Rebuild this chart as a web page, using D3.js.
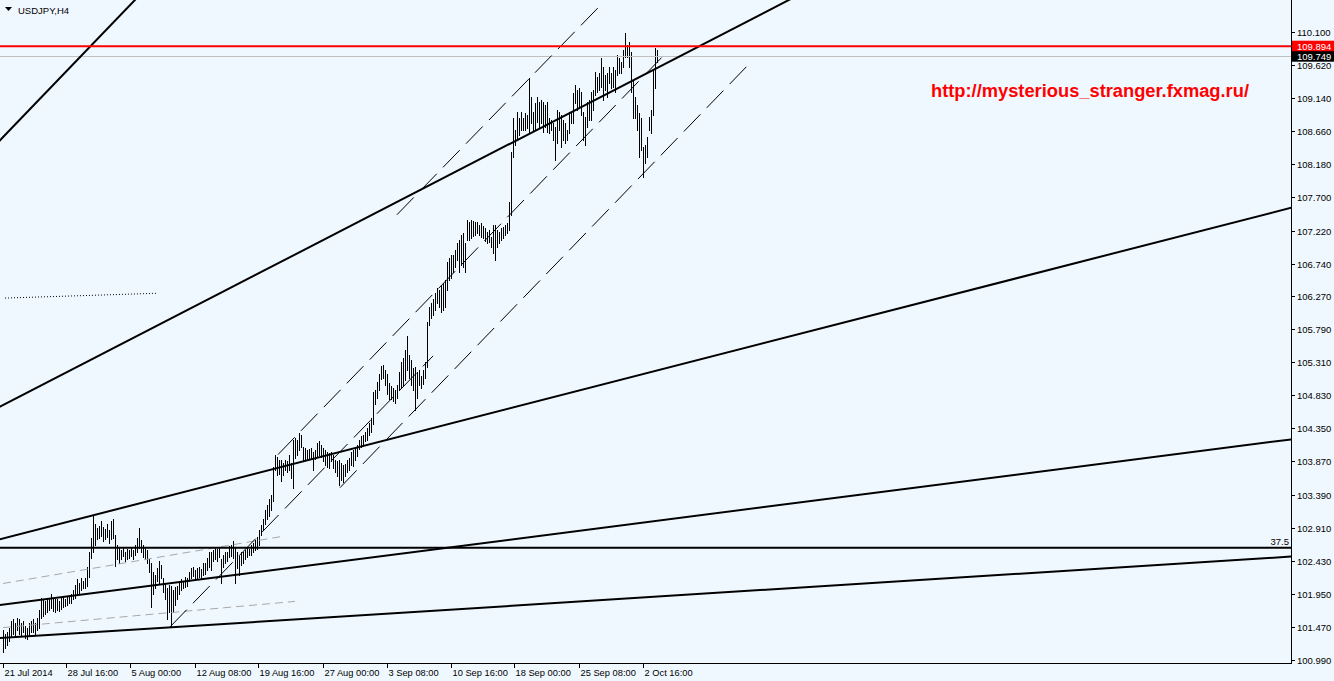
<!DOCTYPE html>
<html><head><meta charset="utf-8">
<script src="https://cdn.jsdelivr.net/npm/d3@7/dist/d3.min.js"></script>
<style>html,body{margin:0;padding:0;background:#f0f8ff;overflow:hidden}text{font-family:"Liberation Sans",Arial,sans-serif}</style>
</head><body>
<svg id="c" width="1334" height="681"></svg>
<script>
// ---- data: USDJPY H4 bars (high / low), bar index 0 = first visible bar ----
const highs=[
101.43,101.36,101.40,101.46,101.55,101.58,101.52,101.60,101.58,101.52,
101.55,101.49,101.46,101.52,101.55,101.58,101.52,101.60,101.72,101.89,
101.87,101.84,101.87,101.89,101.95,101.89,101.87,101.88,101.85,101.89,
101.91,101.88,101.92,101.91,101.95,102.01,102.08,102.16,102.11,102.18,
102.13,102.18,102.34,102.56,102.76,103.10,102.97,102.91,102.94,103.01,
102.92,102.89,102.97,102.88,103.00,103.03,102.81,102.66,102.63,102.59,
102.62,102.56,102.60,102.58,102.62,102.59,102.66,102.76,102.91,102.73,
102.66,102.62,102.59,102.45,102.40,102.27,102.23,102.33,102.42,102.37,
102.18,102.11,102.04,102.08,102.07,102.01,102.05,102.07,102.13,102.16,
102.14,102.20,102.18,102.27,102.33,102.34,102.30,102.33,102.34,102.31,
102.39,102.40,102.47,102.55,102.56,102.59,102.63,102.60,102.63,102.45,
102.52,102.55,102.56,102.65,102.66,102.71,102.63,102.55,102.50,102.56,
102.55,102.59,102.62,102.60,102.66,102.68,102.73,102.78,102.88,102.95,
103.04,103.17,103.24,103.32,103.39,103.79,103.97,103.94,103.89,103.89,
103.85,103.89,103.87,103.97,103.85,104.18,104.21,104.18,104.29,104.26,
104.08,104.07,104.04,104.05,104.07,104.01,104.04,104.14,104.16,104.11,
104.07,104.04,104.01,104.00,104.01,103.97,103.89,103.87,103.89,103.85,
103.82,103.84,103.89,103.92,104.01,104.04,104.07,104.11,104.18,104.24,
104.26,104.30,104.36,104.43,104.50,104.88,104.91,105.03,105.14,105.26,
105.27,105.20,105.14,105.01,104.97,104.94,104.91,104.98,105.17,105.32,
105.37,105.49,105.69,105.42,105.34,105.23,105.24,105.17,105.20,105.11,
105.20,105.32,105.90,106.11,106.17,106.22,106.32,106.39,106.36,106.43,
106.46,106.50,106.77,106.82,106.87,106.87,106.94,107.04,107.08,107.16,
107.18,107.04,107.37,107.35,107.37,107.36,107.35,107.35,107.30,107.33,
107.29,107.26,107.20,107.23,107.13,107.30,107.30,107.23,107.20,107.26,
107.27,107.30,107.33,107.64,108.36,108.85,108.68,108.94,108.85,108.94,
108.85,108.93,108.90,109.43,109.16,108.94,109.07,109.16,109.09,109.12,
109.09,109.04,109.09,108.85,108.82,108.78,108.72,108.97,108.94,108.90,
108.82,108.78,108.68,108.94,108.94,109.22,109.33,109.26,109.29,109.23,
108.94,108.87,109.09,109.12,109.23,109.26,109.52,109.45,109.51,109.72,
109.59,109.48,109.51,109.59,109.51,109.59,109.55,109.77,109.72,109.67,
109.84,110.09,109.91,109.96,109.81,109.41,109.16,109.04,108.93,108.85,
108.43,108.46,108.58,108.87,108.97,109.55,109.87,109.84];
const lows=[
101.11,101.17,101.21,101.26,101.34,101.37,101.34,101.43,101.37,101.34,
101.39,101.31,101.29,101.34,101.40,101.40,101.37,101.43,101.46,101.60,
101.63,101.66,101.69,101.72,101.75,101.70,101.68,101.72,101.70,101.73,
101.76,101.78,101.79,101.81,101.82,101.87,101.89,101.94,101.95,102.01,
102.03,102.04,102.07,102.20,102.47,102.56,102.66,102.74,102.76,102.79,
102.71,102.74,102.78,102.68,102.74,102.76,102.36,102.45,102.40,102.45,
102.50,102.42,102.45,102.47,102.50,102.45,102.52,102.56,102.62,102.56,
102.49,102.45,102.40,102.27,101.76,101.95,102.04,102.13,102.10,102.18,
101.98,101.87,101.58,101.69,101.47,101.69,101.79,101.87,101.95,102.01,
102.03,102.05,102.07,102.14,102.18,102.21,102.16,102.18,102.20,102.18,
102.23,102.24,102.30,102.34,102.30,102.42,102.45,102.42,102.49,102.11,
102.34,102.40,102.43,102.49,102.50,102.47,102.11,102.33,102.23,102.37,
102.40,102.45,102.49,102.52,102.52,102.55,102.59,102.60,102.66,102.81,
102.88,102.97,103.03,103.08,103.17,103.29,103.75,103.68,103.69,103.58,
103.68,103.75,103.71,103.75,103.63,103.49,103.92,103.97,104.04,104.08,
103.87,103.90,103.90,103.92,103.92,103.75,103.90,103.94,103.97,103.94,
103.87,103.82,103.79,103.78,103.87,103.78,103.72,103.66,103.53,103.60,
103.57,103.66,103.72,103.75,103.82,103.81,103.89,103.95,104.05,104.08,
104.10,104.16,104.18,104.26,104.30,104.42,104.71,104.79,104.91,105.06,
105.08,104.98,104.85,104.77,104.77,104.74,104.72,104.79,104.91,104.94,
104.97,105.05,105.20,105.08,104.98,104.91,104.62,104.79,104.98,104.94,
104.99,105.08,105.24,105.85,105.95,106.00,106.07,106.17,106.11,106.04,
106.07,106.11,106.36,106.50,106.53,106.62,106.69,106.79,106.62,106.72,
106.69,106.62,107.08,107.08,107.11,107.14,107.16,107.19,107.16,107.13,
107.11,107.07,107.04,107.06,106.98,106.90,106.79,106.98,107.04,107.08,
107.11,107.16,107.19,107.23,107.45,108.29,108.46,108.54,108.61,108.68,
108.68,108.68,108.71,108.64,108.78,108.68,108.68,108.80,108.72,108.78,
108.65,108.72,108.65,108.64,108.68,108.54,108.25,108.49,108.68,108.43,
108.54,108.49,108.54,108.64,108.78,108.78,109.07,108.97,109.00,108.90,
108.54,108.46,108.72,108.82,108.82,108.97,109.19,109.23,109.26,109.30,
109.12,109.26,109.16,109.36,109.29,109.30,109.23,109.48,109.51,109.51,
109.59,109.74,109.74,109.59,109.23,108.85,108.85,108.68,108.29,108.39,
108.00,108.20,108.29,108.68,108.64,108.90,109.29,109.67];

const dateLabels=["21 Jul 2014","28 Jul 16:00","5 Aug 00:00","12 Aug 08:00","19 Aug 16:00","27 Aug 00:00","3 Sep 08:00","10 Sep 16:00","18 Sep 00:00","25 Sep 08:00","2 Oct 16:00"];
const dateIdx=[0,32,64,96,128,160,192,224,256,288,320];
const priceTicks=["110.100","109.620","109.140","108.660","108.180","107.700","107.220","106.740","106.270","105.790","105.310","104.830","104.350","103.870","103.390","102.910","102.430","101.950","101.470","100.990"];
const symbolTitle="USDJPY,H4";
const urlText="http://mysterious_stranger.fxmag.ru/";
const redLevel=109.894, bidPrice=109.749, fiboLevel=102.62, fiboLabel="37.5";
// trend lines extended across chart: [bar1, price1, bar2, price2]
const trendRays=[[-0.75,108.56,64.25,110.52],[-0.75,104.68,348.25,109.90],[-0.75,102.75,643.75,107.55],[-0.75,101.79,643.75,104.19],[-0.75,101.31,643.75,102.49]];
// dashed channel segments
const channelSegs=[[137.25,103.97,331.75,109.81],[196.75,107.45,300.25,110.54],[83.25,101.47,214.75,105.40],[168.25,103.49,373.25,109.65]];
// grey dashed segments
const greySegs=[[-0.25,102.10,140.75,102.79],[-0.25,101.46,145.75,101.84]];
// dotted segment
const dotSegs=[[0.75,106.24,76.75,106.31]];

// ---- drawing ----
const W=1334,H=681,plotR=1291,plotB=663;
const svg=d3.select("#c");
svg.append("rect").attr("width",W).attr("height",H).attr("fill","#f0f8ff");
const x=d3.scaleLinear().domain([0,644]).range([3.5,1291.5]);
const y=d3.scaleLinear().domain([100.99,110.10]).range([660,32]);

svg.append("clipPath").attr("id","pc").append("rect").attr("x",0).attr("y",0).attr("width",plotR).attr("height",plotB);
const g=svg.append("g").attr("clip-path","url(#pc)");

// bars
g.append("g").selectAll("line").data(highs).join("line")
 .attr("x1",(d,i)=>x(i)).attr("x2",(d,i)=>x(i))
 .attr("y1",d=>Math.round(y(d))).attr("y2",(d,i)=>Math.round(y(lows[i]))+1)
 .attr("stroke","#000").attr("stroke-width",1).attr("shape-rendering","crispEdges");

// grey bid line
g.append("line").attr("x1",0).attr("x2",plotR).attr("y1",Math.round(y(bidPrice))+0.5).attr("y2",Math.round(y(bidPrice))+0.5)
 .attr("stroke","#c0c0c0").attr("stroke-width",1).attr("shape-rendering","crispEdges");

// grey dashed
g.append("g").selectAll("line").data(greySegs).join("line")
 .attr("x1",d=>x(d[0])).attr("y1",d=>y(d[1])).attr("x2",d=>x(d[2])).attr("y2",d=>y(d[3]))
 .attr("stroke","#a8a8a8").attr("stroke-width",1).attr("stroke-dasharray","8,5");
// dotted
g.append("g").selectAll("line").data(dotSegs).join("line")
 .attr("x1",d=>x(d[0])).attr("y1",d=>y(d[1])).attr("x2",d=>x(d[2])).attr("y2",d=>y(d[3]))
 .attr("stroke","#000").attr("stroke-width",1).attr("stroke-dasharray","1,2");
// channel dashed
g.append("g").selectAll("line").data(channelSegs).join("line")
 .attr("x1",d=>x(d[0])).attr("y1",d=>y(d[1])).attr("x2",d=>x(d[2])).attr("y2",d=>y(d[3]))
 .attr("stroke","#000").attr("stroke-width",1).attr("stroke-dasharray","24,9");

// trend rays (extended both ways)
g.append("g").selectAll("line").data(trendRays).join("line")
 .each(function(d){
   const x1=x(d[0]),y1=y(d[1]),x2=x(d[2]),y2=y(d[3]);
   const s=(y2-y1)/(x2-x1);
   const xa=-20,xb=1320;
   d3.select(this).attr("x1",xa).attr("y1",y1+s*(xa-x1)).attr("x2",xb).attr("y2",y1+s*(xb-x1));
 })
 .attr("stroke","#000").attr("stroke-width",2);

// fibo horizontal
g.append("line").attr("x1",0).attr("x2",plotR).attr("y1",y(fiboLevel)).attr("y2",y(fiboLevel))
 .attr("stroke","#000").attr("stroke-width",2);
svg.append("text").attr("x",1289).attr("y",y(fiboLevel)-2.5).attr("text-anchor","end")
 .attr("font-size",9.5).attr("fill","#000").text(fiboLabel);

// red level
g.append("line").attr("x1",0).attr("x2",plotR).attr("y1",y(redLevel)).attr("y2",y(redLevel))
 .attr("stroke","#ff0000").attr("stroke-width",2);

// axes frame
svg.append("line").attr("x1",plotR+0.5).attr("x2",plotR+0.5).attr("y1",0).attr("y2",plotB+1).attr("stroke","#000").attr("shape-rendering","crispEdges");
svg.append("line").attr("x1",0).attr("x2",plotR+1).attr("y1",plotB+0.5).attr("y2",plotB+0.5).attr("stroke","#000").attr("shape-rendering","crispEdges");

// price axis
const pa=svg.append("g");
priceTicks.forEach(t=>{
  const yy=Math.round(y(+t))+0.5;
  pa.append("line").attr("x1",plotR+1).attr("x2",plotR+4).attr("y1",yy).attr("y2",yy).attr("stroke","#000").attr("shape-rendering","crispEdges");
  pa.append("text").attr("x",1297).attr("y",yy+3.5).attr("font-size",9.5).attr("fill","#000").text(t);
});
// bid & red price boxes
const yb=y(bidPrice), yr=y(redLevel);
pa.append("rect").attr("x",plotR+1).attr("y",yb-5.5).attr("width",W-plotR-1).attr("height",11).attr("fill","#000");
pa.append("text").attr("x",1297).attr("y",yb+3.5).attr("font-size",9.5).attr("fill","#fff").text(bidPrice.toFixed(3));
pa.append("rect").attr("x",plotR+1).attr("y",yr-5.5).attr("width",W-plotR-1).attr("height",10.5).attr("fill","#ff0000");
pa.append("text").attr("x",1297).attr("y",yr+3.5).attr("font-size",9.5).attr("fill","#fff").text(redLevel.toFixed(3));

// time axis
const ta=svg.append("g");
dateIdx.forEach((b,k)=>{
  const xx=Math.round(x(b))-0.5;
  ta.append("line").attr("x1",xx).attr("x2",xx).attr("y1",plotB).attr("y2",plotB+5).attr("stroke","#000").attr("shape-rendering","crispEdges");
  ta.append("text").attr("x",xx+1).attr("y",676).attr("font-size",9.3).attr("fill","#000").text(dateLabels[k]);
});

// title
svg.append("path").attr("d","M5,7 L12,7 L8.5,11 Z").attr("fill","#000");
svg.append("text").attr("x",18).attr("y",14).attr("font-size",9.5).attr("fill","#000").text(symbolTitle);
// url
svg.append("text").attr("x",931).attr("y",97).attr("font-size",18.3).attr("font-weight","bold").attr("fill","#ff0000").text(urlText);
</script>
</body></html>
